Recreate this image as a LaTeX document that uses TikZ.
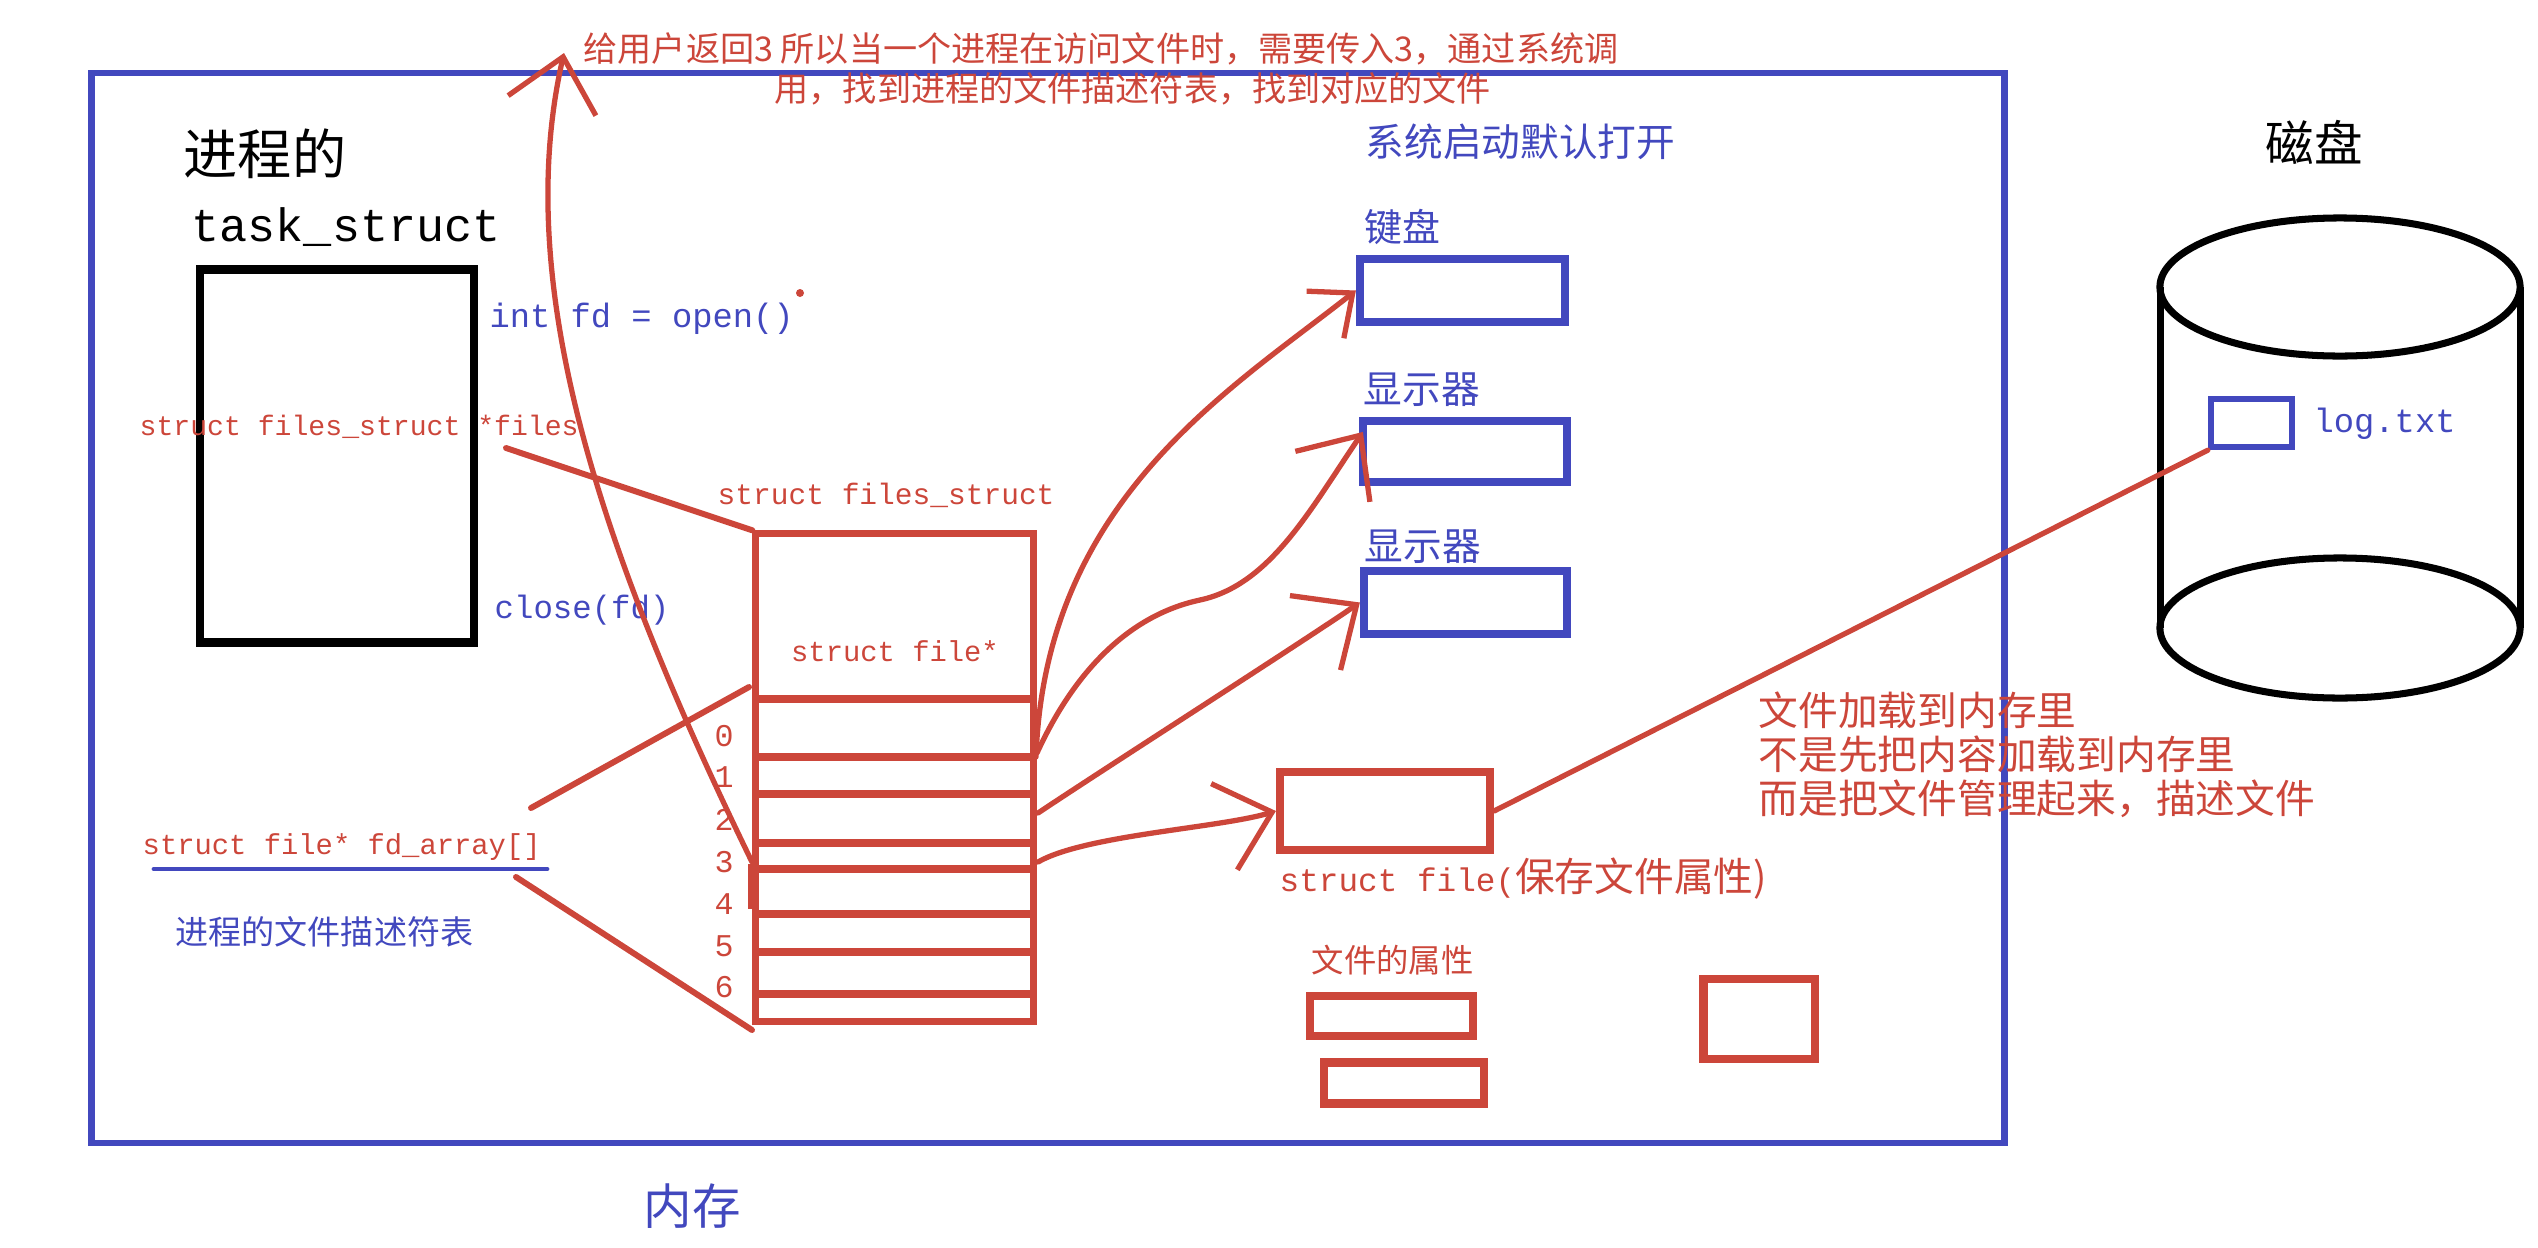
\documentclass[tikz,border=0pt]{standalone}
\usepackage{fontspec}
\setmainfont{Liberation Mono}
\newfontfamily\cjk{Noto Sans CJK SC}
\usetikzlibrary{arrows.meta, calc}
\definecolor{penred}{RGB}{204, 70, 58}
\definecolor{penblue}{RGB}{66, 72, 190}
\newcommand{\fsz}[1]{\fontsize{#1pt}{#1pt}\selectfont}

\begin{document}
\begin{tikzpicture}[x=0.01cm, y=-0.01cm,
    redtxt/.style={text=penred, inner sep=0pt},
    bluetxt/.style={text=penblue, inner sep=0pt},
    redbox/.style={draw=penred, line width=2.3pt, inner sep=0pt},
    bluebox/.style={draw=penblue, line width=2.3pt, inner sep=0pt},
    redline/.style={draw=penred, line width=1.7pt, line cap=round},
    fdarrow/.style={redline, line width=1.5pt, -{Straight Barb[length=5mm, width=9mm]}}]

    \useasboundingbox (0,0) rectangle (2538,1248);

    \node[draw=penblue, line width=1.8pt, minimum width=19.12cm, minimum height=10.70cm] (mem) at (1048,608) {};
    \node[bluetxt, font=\cjk\fsz{13.8}] (memlbl) at (692,1206) {内存};

    \node[anchor=west, inner sep=0pt, font=\cjk\fsz{15.4}] (procname) at (183,154) {进程的};
    \node[anchor=west, inner sep=0pt, font=\fsz{13.3}] (tasklbl) at (191,227) {task\_struct};
    \node[draw, line width=2.5pt, minimum width=2.74cm, minimum height=3.73cm] (taskbox) at (337,456) {};
    \node[bluetxt, anchor=west, font=\fsz{9.6}] (openlbl) at (489,319) {int fd = open()};
    \fill[penred] (800,293) circle[radius=0.04cm];
    \node[redtxt, anchor=west, font=\fsz{8}] (fileslbl) at (139,427) {struct files\_struct *files};
    \node[bluetxt, anchor=west, font=\fsz{9.2}] (closelbl) at (494,610) {close(fd)};

    \node[redtxt, anchor=west, font=\fsz{8.4}] (fstitle) at (717,495) {struct files\_struct};
    \node[redbox, line width=2pt, minimum width=2.77cm, minimum height=4.87cm] (fstab) at (894.5,777.5) {};
    \foreach \y in {699,757,794,843,869,914,952,994}
        \draw[penred, line width=2pt] (756,\y) -- (1033,\y);
    \fill[penred] (748,864) rectangle (757,909);
    \node[redtxt, font=\fsz{8.2}] (slotlbl) at (895,651) {struct file*};
    \foreach \d/\y in {0/736,1/777,2/820,3/862,4/904,5/946,6/987}
        \node[redtxt, font=\fsz{9}] (idx\d) at (724,\y) {\d};

    \node[redtxt, anchor=west, font=\fsz{8.2}] (fdlbl) at (142,847) {struct file* fd\_array[]};
    \draw[penblue, line width=1.4pt, line cap=round] (154,869) -- (547,869);
    \node[bluetxt, anchor=west, font=\cjk\fsz{9.4}] (fdtbl) at (175,932) {进程的文件描述符表};

    \coordinate (filesptr) at (506,448);
    \coordinate (fdtop) at (531,808);
    \coordinate (fdbot) at (516,877);
    \coordinate (slottop) at (749,687);
    \coordinate (slotend) at (752,1030);
    \draw[redline] (filesptr) -- (fstab.north west);
    \draw[redline] (fdtop) -- (slottop);
    \draw[redline] (fdbot) -- (slotend);

    \coordinate (fd3) at (752,862);
    \coordinate (ret) at (564,53);
    \draw[fdarrow] (fd3) .. controls (605,560) and (510,290) .. (ret);
    \node[redtxt, anchor=west, font=\cjk\fsz{9.7}] (retnote) at (583,49) {给用户返回3 所以当一个进程在访问文件时，需要传入3，通过系统调};
    \node[redtxt, anchor=west, font=\cjk\fsz{9.7}] (retnote2) at (774,89) {用，找到进程的文件描述符表，找到对应的文件};

    \node[bluetxt, anchor=west, font=\cjk\fsz{11}] (sysopen) at (1365,142) {系统启动默认打开};
    \node[bluetxt, anchor=west, font=\cjk\fsz{10.8}] (kbdlbl) at (1364,227) {键盘};
    \node[bluebox, minimum width=2.05cm, minimum height=0.63cm] (kbd) at (1462.5,290.5) {};
    \node[bluetxt, anchor=west, font=\cjk\fsz{11}] (scr1lbl) at (1363,390) {显示器};
    \node[bluebox, minimum width=2.04cm, minimum height=0.61cm] (scr1) at (1465,451.5) {};
    \node[bluetxt, anchor=west, font=\cjk\fsz{11}] (scr2lbl) at (1364,547) {显示器};
    \node[bluebox, minimum width=2.03cm, minimum height=0.63cm] (scr2) at (1465.5,602.5) {};

    \node[redbox, minimum width=2.10cm, minimum height=0.78cm] (fbox) at (1385,811) {};
    \node[redtxt, anchor=west] (fboxlbl) at (1279,879) {{\fsz{9.3}struct file(}{\cjk\fsz{11.3}保存文件属性)}};
    \node[redtxt, anchor=west, font=\cjk\fsz{9.2}] (attrlbl) at (1311,960) {文件的属性};
    \node[redbox, minimum width=1.63cm, minimum height=0.40cm] (attr1) at (1391.5,1016) {};
    \node[redbox, minimum width=1.60cm, minimum height=0.41cm] (attr2) at (1404,1083) {};
    \node[redbox, minimum width=1.11cm, minimum height=0.80cm] (spare) at (1759,1019) {};
    \node[redtxt, anchor=west, align=left, font=\cjk\fontsize{11.3pt}{12.5pt}\selectfont] (loadnote) at (1758,755) {文件加载到内存里\\不是先把内容加载到内存里\\而是把文件管理起来，描述文件};

    \node[inner sep=0pt, font=\cjk\fsz{13.8}] (disklbl) at (2314,142) {磁盘};
    \draw[line width=2pt] (2340,287) ellipse [x radius=1.8cm, y radius=0.69cm];
    \draw[line width=2pt] (2340,628) ellipse [x radius=1.8cm, y radius=0.70cm];
    \draw[line width=2pt] (2160,287) -- (2160,628) (2520,287) -- (2520,628);
    \node[bluebox, line width=1.8pt, minimum width=0.81cm, minimum height=0.48cm] (logbox) at (2251.5,423) {};
    \node[bluetxt, anchor=west, font=\fsz{9.6}] (loglbl) at (2313,424) {log.txt};
    \draw[redline, line width=1.5pt] (fbox.east) -- (logbox.south west);

    \coordinate (slot0) at (1036,757);
    \coordinate (slot1) at (1037,753);
    \coordinate (slot2) at (1038,813);
    \coordinate (slot3) at (1038,862);
    \draw[fdarrow, -{Straight Barb[length=3.5mm, width=6mm]}] (slot0) .. controls (1045,500) and (1230,390) .. (kbd.west);
    \draw[fdarrow] (slot1) .. controls (1075,670) and (1130,615) .. (1200,600)
        .. controls (1270,585) and (1310,510) .. ($(scr1.north west)+(4,15)$);
    \draw[fdarrow] (slot2) .. controls (1110,765) and (1290,650) .. (scr2.west);
    \draw[fdarrow] (slot3) .. controls (1085,835) and (1220,828) .. (fbox.west);
\end{tikzpicture}
\end{document}
